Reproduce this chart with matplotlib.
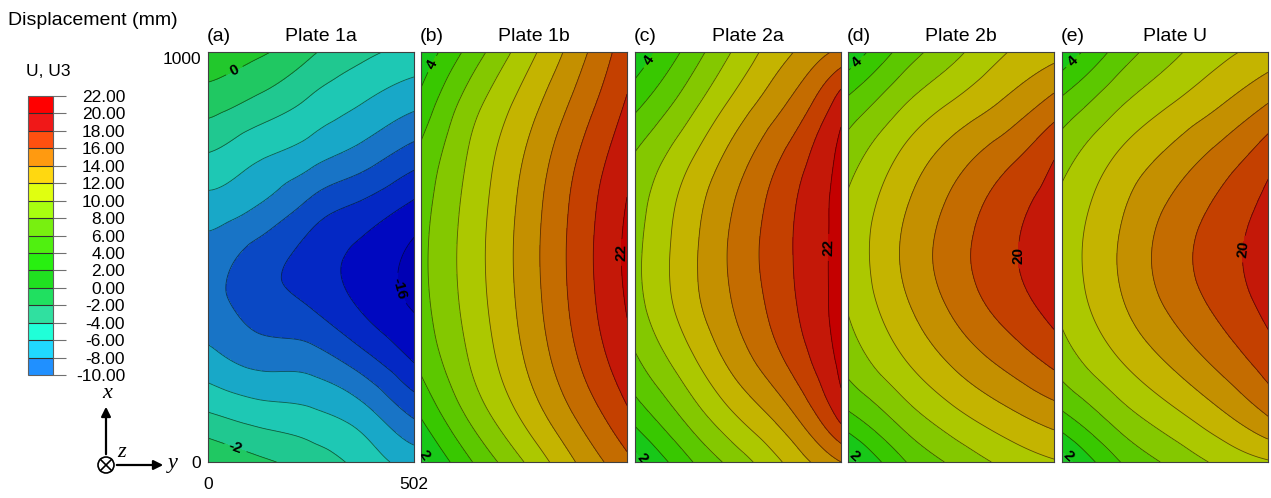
import numpy as np
import matplotlib.pyplot as plt
import matplotlib.tri as mtri
from matplotlib.colors import ListedColormap, BoundaryNorm
from matplotlib.cm import ScalarMappable
from matplotlib.patches import Circle

plt.rcParams['font.family'] = ['Liberation Sans', 'DejaVu Sans']
plt.rcParams['contour.negative_linestyle'] = 'solid'

W, H = 1271, 498

# node positions on the plate (mm): y across the width, x along the length
y_nodes = [0, 125.5, 251, 376.5, 502]
x_nodes = [1000, 875, 750, 625, 500, 375, 250, 125, 0]

# U3 (mm), one row per x_nodes entry, one column per y_nodes entry
plate_1a = [
    [1.2, 0.3, -1.7, -3.5, -4.6],
    [-1.1, -2.6, -4.4, -6.0, -7.5],
    [-4.1, -5.7, -7.1, -8.8, -10.9],
    [-6.8, -8.1, -10.6, -12.4, -14.4],
    [-8.9, -11.0, -12.8, -14.6, -16.5],
    [-9.2, -10.9, -12.0, -14.2, -16.1],
    [-7.3, -8.7, -9.0, -11.2, -14.2],
    [-4.1, -5.2, -5.8, -7.4, -10.6],
    [-0.1, -1.6, -2.9, -4.7, -6.8],
]
plate_1b = [
    [2.5, 6.9, 11.0, 15.0, 19.2],
    [4.6, 9.2, 12.8, 16.5, 20.2],
    [6.4, 10.4, 14.0, 17.8, 21.3],
    [7.2, 10.9, 14.6, 18.5, 22.1],
    [7.5, 11.1, 14.8, 18.7, 22.4],
    [7.3, 10.9, 14.6, 18.5, 22.1],
    [6.5, 10.3, 14.0, 17.8, 21.3],
    [4.4, 8.8, 12.6, 16.3, 19.8],
    [1.2, 6.0, 10.0, 14.0, 17.5],
]
plate_2a = [
    [2.5, 6.5, 10.5, 13.8, 16.5],
    [5.4, 9.0, 12.8, 16.2, 21.0],
    [8.1, 11.4, 15.0, 18.5, 22.5],
    [9.1, 12.8, 16.3, 19.6, 22.7],
    [9.5, 13.2, 16.7, 19.8, 22.8],
    [9.2, 12.9, 16.3, 19.5, 22.8],
    [7.7, 11.3, 15.0, 18.4, 22.5],
    [5.1, 8.8, 12.4, 15.8, 21.0],
    [1.0, 5.5, 9.0, 12.5, 16.0],
]
plate_2b = [
    [2.4, 6.5, 9.3, 11.8, 13.3],
    [6.5, 9.6, 12.1, 14.2, 16.7],
    [9.0, 12.1, 14.8, 17.1, 19.8],
    [10.3, 13.5, 16.4, 18.9, 20.9],
    [10.6, 14.0, 17.0, 19.4, 21.5],
    [10.1, 13.3, 16.2, 18.6, 20.7],
    [8.8, 11.7, 14.3, 16.5, 18.6],
    [6.0, 9.0, 11.6, 13.6, 15.3],
    [0.7, 5.5, 8.3, 10.4, 11.8],
]
plate_u = [
    [2.4, 6.4, 9.2, 11.3, 12.8],
    [6.5, 9.4, 11.7, 13.7, 16.0],
    [9.1, 11.9, 14.2, 16.5, 19.1],
    [10.5, 13.3, 16.0, 18.3, 20.6],
    [10.9, 13.8, 16.7, 19.0, 21.1],
    [10.4, 13.3, 16.0, 18.3, 20.5],
    [9.0, 11.7, 14.1, 16.5, 19.0],
    [6.0, 9.0, 11.4, 13.7, 16.4],
    [0.7, 5.5, 8.2, 10.3, 11.8],
]

plates = [plate_1a, plate_1b, plate_2a, plate_2b, plate_u]
panel_tags = ['(a)', '(b)', '(c)', '(d)', '(e)']
panel_titles = ['Plate 1a', 'Plate 1b', 'Plate 2a', 'Plate 2b', 'Plate U']

# labelled contours: level and where the label sits (y, x in mm)
label_spots = [
    [(0, (61, 961)), (-2, (78, 66)), (-16, (438, 415))],
    [(4, (42, 963)), (2, (42, 41)), (22, (455, 512))],
    [(4, (44, 973)), (2, (54, 41)), (22, (436, 524))],
    [(4, (37, 961)), (2, (42, 41)), (20, (389, 505))],
    [(4, (42, 963)), (2, (49, 49)), (20, (416, 522))],
]

legend_levels = np.arange(-10, 24, 2)
legend_colors = ['#2090ff', '#20d8ff', '#20ffd8', '#30e0a0', '#20e060', '#20e020',
                 '#28f010', '#50f010', '#78f010', '#a8ff10', '#e0ff10', '#ffd810',
                 '#ff9a10', '#ff5010', '#f01818', '#ff0000']

field_levels = np.arange(-18, 26, 2)
field_colors = ['#0000b4', '#0008c0', '#0428c4', '#0a48c4', '#1874c6', '#18a8c8',
                '#1ec8b4', '#20c890', '#20c862', '#22c82c', '#18c818', '#38c800',
                '#5cc800', '#84c800', '#acc800', '#c4b400', '#c49000', '#c46c00',
                '#c44000', '#c41808', '#c40000']
field_cmap = ListedColormap(field_colors)
field_norm = BoundaryNorm(field_levels, field_cmap.N)

fig = plt.figure(figsize=(W / 100, H / 100), dpi=100)

Yg, Xg = np.meshgrid(y_nodes, x_nodes)
tri = mtri.Triangulation(Yg.ravel(), Xg.ravel())
refiner = mtri.UniformTriRefiner(tri)

panel_left = [208, 421, 635, 848, 1062]
line_kw = dict(colors='k', linewidths=0.6, alpha=0.55)
for i, vals in enumerate(plates):
    left = panel_left[i]
    ax = fig.add_axes([left / W, (H - 462) / H, 206 / W, 410 / H])
    z = np.array(vals, dtype=float).ravel()
    interp = mtri.CubicTriInterpolator(tri, z, kind='min_E')
    tri_f, z_f = refiner.refine_field(z, triinterpolator=interp, subdiv=5)
    ax.tricontourf(tri_f, z_f, levels=field_levels, cmap=field_cmap, norm=field_norm)
    labelled = [s[0] for s in label_spots[i]]
    others = [l for l in field_levels if l not in labelled]
    ax.tricontour(tri_f, z_f, levels=others, **line_kw)
    for lev, spot in label_spots[i]:
        cs = ax.tricontour(tri_f, z_f, levels=[lev], **line_kw)
        ax.clabel(cs, fmt='%d', manual=[spot], inline=True, fontsize=11, colors='k')
        for t in cs.labelTexts:
            t.set_fontweight('bold')
            t.set_alpha(1)
    ax.set_xlim(0, 502)
    ax.set_ylim(0, 1000)
    for s in ax.spines.values():
        s.set_color('#404040')
        s.set_linewidth(0.8)
    if i == 0:
        ax.set_xticks([0, 502])
        ax.set_yticks([0, 1000])
        ax.tick_params(length=0, labelsize=12.5)
        ax.tick_params(axis='x', pad=11)
        ax.tick_params(axis='y', pad=5)
        ax.get_yticklabels()[1].set_va('top')
    else:
        ax.set_xticks([])
        ax.set_yticks([])
    fig.text((left - 1) / W, 1 - 41 / H, panel_tags[i], fontsize=14, va='baseline')
    fig.text((left + 113) / W, 1 - 41 / H, panel_titles[i], fontsize=14,
             va='baseline', ha='center')

# legend bar
cax = fig.add_axes([28 / W, (H - 375) / H, 25 / W, 279 / H])
legend_cmap = ListedColormap(legend_colors)
sm = ScalarMappable(norm=BoundaryNorm(legend_levels, legend_cmap.N), cmap=legend_cmap)
cb = fig.colorbar(sm, cax=cax, ticks=legend_levels, drawedges=True)
cb.outline.set_edgecolor('#606060')
cb.outline.set_linewidth(0.8)
cb.dividers.set_color('#303030')
cb.dividers.set_linewidth(0.8)
cax.set_yticklabels([f'{v:.2f}' for v in legend_levels])
cax.tick_params(length=9, width=0.8, color='#707070', labelsize=12.5, pad=43)
for t in cax.get_yticklabels():
    t.set_ha('right')

fig.text(8 / W, 1 - 20 / H, 'Displacement (mm)', fontsize=14, va='center')
fig.text(26 / W, 1 - 72 / H, 'U, U3', fontsize=12.5, va='center')

# coordinate triad
tax = fig.add_axes([0, 0, 1, 1])
tax.set_xlim(0, W)
tax.set_ylim(H, 0)
tax.axis('off')
tax.patch.set_visible(False)
cx, cy, r = 106, 465, 8
tax.add_patch(Circle((cx, cy), r, fill=False, lw=1.2, color='k'))
d = r * 0.7
tax.plot([cx - d, cx + d], [cy - d, cy + d], color='k', lw=1.2)
tax.plot([cx - d, cx + d], [cy + d, cy - d], color='k', lw=1.2)
tax.annotate('', xy=(cx, 404), xytext=(cx, cy - r),
             arrowprops=dict(arrowstyle='-|>', color='k', lw=1.6, mutation_scale=14))
tax.annotate('', xy=(166, cy), xytext=(cx + r, cy),
             arrowprops=dict(arrowstyle='-|>', color='k', lw=1.6, mutation_scale=14))
serif = dict(family='Liberation Serif', style='italic', fontsize=16)
tax.text(107, 393, 'x', ha='center', va='center', **serif)
tax.text(173, 463, 'y', ha='center', va='center', **serif)
tax.text(122, 452, 'z', ha='center', va='center', **serif)

fig.savefig('out.png', dpi=100)
